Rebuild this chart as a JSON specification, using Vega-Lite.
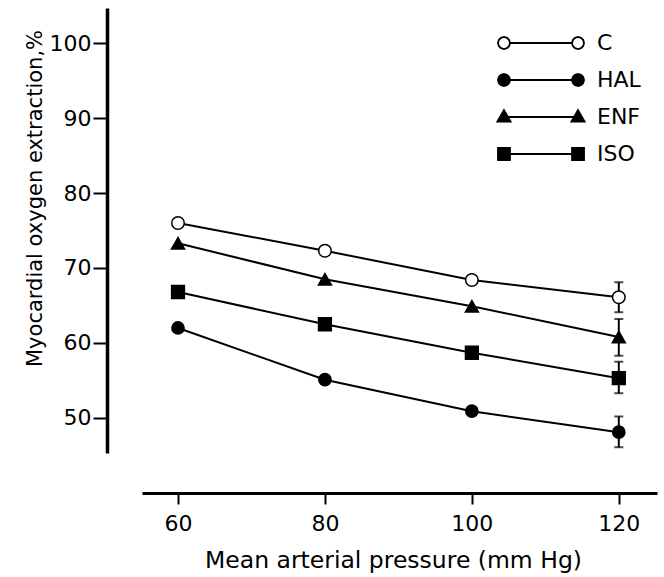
{
  "$schema": "https://vega.github.io/schema/vega-lite/v6.json",
  "autosize": {"type": "none"},
  "padding": {"left": 142, "top": 8, "right": 7, "bottom": 124},
  "width": 515,
  "height": 445,
  "background": "white",
  "data": {"values": [
    {"series": "C", "pressure": 60, "value": 76.0},
    {"series": "C", "pressure": 80, "value": 72.3},
    {"series": "C", "pressure": 100, "value": 68.4},
    {"series": "C", "pressure": 120, "value": 66.1, "lo": 64.1, "hi": 68.1},
    {"series": "HAL", "pressure": 60, "value": 62.0},
    {"series": "HAL", "pressure": 80, "value": 55.1},
    {"series": "HAL", "pressure": 100, "value": 50.9},
    {"series": "HAL", "pressure": 120, "value": 48.1, "lo": 46.1, "hi": 50.2},
    {"series": "ENF", "pressure": 60, "value": 73.3},
    {"series": "ENF", "pressure": 80, "value": 68.5},
    {"series": "ENF", "pressure": 100, "value": 64.9},
    {"series": "ENF", "pressure": 120, "value": 60.8, "lo": 58.3, "hi": 63.2},
    {"series": "ISO", "pressure": 60, "value": 66.8},
    {"series": "ISO", "pressure": 80, "value": 62.5},
    {"series": "ISO", "pressure": 100, "value": 58.7},
    {"series": "ISO", "pressure": 120, "value": 55.3, "lo": 53.3, "hi": 57.5}
  ]},
  "encoding": {
    "x": {
      "field": "pressure", "type": "quantitative",
      "scale": {"domain": [55.1, 125.2], "nice": false, "zero": false},
      "axis": {
        "values": [60, 80, 100, 120], "offset": 40,
        "domainWidth": 3, "tickWidth": 2, "tickSize": 11,
        "labelFontSize": 22, "labelPadding": 9,
        "title": "Mean arterial pressure (mm Hg)", "titleFontSize": 23.5,
        "titleX": 251, "titleY": 55, "titleBaseline": "top", "titleAnchor": "middle"
      }
    },
    "y": {
      "field": "value", "type": "quantitative",
      "scale": {"domain": [45.33, 104.67], "nice": false, "zero": false},
      "axis": {
        "values": [50, 60, 70, 80, 90, 100], "offset": 35,
        "domainWidth": 3.5, "tickWidth": 2, "tickSize": 14,
        "labelFontSize": 22, "labelPadding": 2,
        "title": "Myocardial oxygen extraction,%", "titleFontSize": 21,
        "titleX": -66, "titleY": 190, "titleBaseline": "alphabetic", "titleAlign": "center", "titleAngle": -90
      }
    }
  },
  "layer": [
    {
      "mark": {"type": "line", "color": "black", "strokeWidth": 2},
      "encoding": {"detail": {"field": "series", "type": "nominal"}}
    },
    {
      "transform": [{"filter": "isValid(datum.lo)"}],
      "mark": {"type": "rule", "color": "black", "strokeWidth": 2},
      "encoding": {
        "y": {"field": "lo", "type": "quantitative"},
        "y2": {"field": "hi"}
      }
    },
    {
      "transform": [{"filter": "isValid(datum.lo)"}],
      "mark": {"type": "tick", "color": "black", "orient": "horizontal", "size": 9, "thickness": 2},
      "encoding": {"y": {"field": "lo", "type": "quantitative"}}
    },
    {
      "transform": [{"filter": "isValid(datum.hi)"}],
      "mark": {"type": "tick", "color": "black", "orient": "horizontal", "size": 9, "thickness": 2},
      "encoding": {"y": {"field": "hi", "type": "quantitative"}}
    },
    {
      "mark": {"type": "point", "filled": true, "stroke": "black", "strokeWidth": 1.5, "opacity": 1},
      "encoding": {
        "shape": {
          "field": "series", "type": "nominal",
          "scale": {"domain": ["HAL", "C", "ENF", "ISO"], "range": ["circle", "circle", "triangle-up", "square"]},
          "legend": null
        },
        "size": {
          "field": "series", "type": "nominal",
          "scale": {"domain": ["ENF", "ISO", "C", "HAL"], "range": [170, 150, 144, 144]},
          "legend": null
        },
        "fill": {
          "field": "series", "type": "nominal",
          "scale": {"domain": ["C", "HAL", "ENF", "ISO"], "range": ["white", "black", "black", "black"]},
          "legend": {
            "title": null, "orient": "none", "legendX": 388, "legendY": 24, "padding": 0,
            "rowPadding": 15, "labelFontSize": 22, "labelFont": "DejaVu Sans", "labelColor": "black",
            "labelOffset": 45, "labelLimit": 300, "symbolSize": 144, "symbolStrokeWidth": 1.8,
            "symbolStrokeColor": "black",
            "symbolType": {"expr": "datum.value === 'C' || datum.value === 'HAL' ? 'M-5.17,0L-5.304,0.5L-5.67,0.866L-6.17,1L-6.67,0.866L-7.036,0.5L-7.17,0L-7.036,-0.5L-6.67,-0.866L-6.17,-1L-5.67,-0.866L-5.304,-0.5ZM-5.17,0L5.17,0M7.17,0L7.036,0.5L6.67,0.866L6.17,1L5.67,0.866L5.304,0.5L5.17,0L5.304,-0.5L5.67,-0.866L6.17,-1L6.67,-0.866L7.036,-0.5Z' : datum.value === 'ENF' ? 'M-6.17,-1.15L-5.07,0.75L-7.27,0.75ZM-6.17,0L6.17,0M6.17,-1.15L7.27,0.75L5.07,0.75Z' : 'M-7.17,-1L-5.17,-1L-5.17,1L-7.17,1ZM-5.17,0L5.17,0M5.17,-1L7.17,-1L7.17,1L5.17,1Z'"}
          }
        }
      }
    }
  ],
  "config": {
    "view": {"stroke": null},
    "font": "DejaVu Sans",
    "axis": {
      "grid": false, "domainColor": "black", "tickColor": "black",
      "labelColor": "black", "titleColor": "black",
      "labelFont": "DejaVu Sans", "titleFont": "DejaVu Sans", "titleFontWeight": "normal"
    }
  }
}
